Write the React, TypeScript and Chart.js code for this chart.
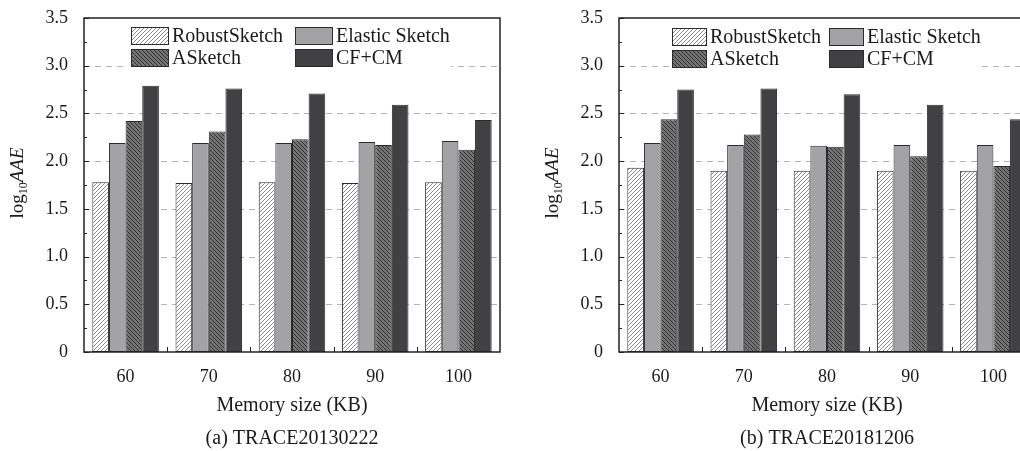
import React, { useEffect, useRef } from 'react';
import { Chart, registerables } from 'chart.js';

Chart.register(...registerables);

const FONT = "'Liberation Serif', 'Times New Roman', Times, serif";

const categories = ['60', '70', '80', '90', '100'];
const seriesNames = ['RobustSketch', 'Elastic Sketch', 'ASketch', 'CF+CM'];
const yTickValues = [0, 0.5, 1.0, 1.5, 2.0, 2.5, 3.0, 3.5];

// (a) TRACE20130222
const traceA_robust = [1.78, 1.77, 1.78, 1.77, 1.78];
const traceA_elastic = [2.19, 2.19, 2.19, 2.2, 2.21];
const traceA_asketch = [2.42, 2.31, 2.23, 2.17, 2.12];
const traceA_cfcm = [2.79, 2.76, 2.71, 2.59, 2.43];

// (b) TRACE20181206
const traceB_robust = [1.93, 1.9, 1.9, 1.9, 1.9];
const traceB_elastic = [2.19, 2.17, 2.16, 2.17, 2.17];
const traceB_asketch = [2.44, 2.28, 2.15, 2.05, 1.95];
const traceB_cfcm = [2.75, 2.76, 2.7, 2.59, 2.44];

function makeHatch(bg: string, fg: string, dir: 'fwd' | 'back', size = 4, lw = 1) {
  const c = document.createElement('canvas');
  c.width = size;
  c.height = size;
  const ctx = c.getContext('2d')!;
  ctx.fillStyle = bg;
  ctx.fillRect(0, 0, size, size);
  ctx.strokeStyle = fg;
  ctx.lineWidth = lw;
  ctx.beginPath();
  if (dir === 'fwd') {
    ctx.moveTo(0, size); ctx.lineTo(size, 0);
    ctx.moveTo(-1, 1); ctx.lineTo(1, -1);
    ctx.moveTo(size - 1, size + 1); ctx.lineTo(size + 1, size - 1);
  } else {
    ctx.moveTo(0, 0); ctx.lineTo(size, size);
    ctx.moveTo(-1, size - 1); ctx.lineTo(1, size + 1);
    ctx.moveTo(size - 1, -1); ctx.lineTo(size + 1, 1);
  }
  ctx.stroke();
  return ctx.createPattern(c, 'repeat')!;
}

type PanelProps = {
  left: number;
  width: number;
  yAxisWidth: number;
  padRight: number;
  values: number[][];
  caption: string;
  legendCols: number[];
  legendRows: number[];
  boxW: number;
};

function Panel(p: PanelProps) {
  const ref = useRef<HTMLCanvasElement>(null);
  useEffect(() => {
    const canvas = ref.current!;
    const fills = [
      makeHatch('#ffffff', '#8a8a8a', 'fwd'),
      '#a3a3a5',
      makeHatch('#747474', '#303030', 'back'),
      '#414143',
    ];
    const border = '#2b2b2b';

    const decor = {
      id: 'decor',
      beforeDatasetsDraw(chart: any) {
        const { ctx, chartArea } = chart;
        const ys = chart.scales.y;
        ctx.save();
        ctx.strokeStyle = '#b4b4b4';
        ctx.lineWidth = 1;
        ctx.setLineDash([6, 5]);
        yTickValues.forEach((v) => {
          if (v <= 0 || v >= 3.5) return;
          const y = Math.round(ys.getPixelForValue(v)) + 0.5;
          ctx.beginPath();
          ctx.moveTo(chartArea.left, y);
          ctx.lineTo(chartArea.right, y);
          ctx.stroke();
        });
        ctx.restore();
      },
      afterDatasetsDraw(chart: any) {
        const { ctx, chartArea } = chart;
        const ys = chart.scales.y;
        const xs = chart.scales.x;
        const L = chartArea.left, R = chartArea.right, T = chartArea.top, B = chartArea.bottom;
        ctx.save();
        // legend background + entries
        const lx0 = L + p.legendCols[0] - 3;
        ctx.fillStyle = '#ffffff';
        ctx.fillRect(lx0, p.legendRows[0] - 3, L + p.legendCols[1] + p.boxW + 118 - lx0, p.legendRows[1] + 18 + 5 - (p.legendRows[0] - 3));
        ctx.font = `20px ${FONT}`;
        ctx.textBaseline = 'middle';
        ctx.textAlign = 'left';
        seriesNames.forEach((name, i) => {
          const col = i % 2;
          const row = Math.floor(i / 2);
          const bx = L + p.legendCols[col];
          const by = p.legendRows[row];
          ctx.fillStyle = fills[i];
          ctx.fillRect(bx, by, p.boxW, 18);
          ctx.strokeStyle = border;
          ctx.lineWidth = 1;
          ctx.strokeRect(bx + 0.5, by + 0.5, p.boxW - 1, 17);
          ctx.fillStyle = '#1a1a1a';
          ctx.fillText(name, bx + p.boxW + 3, by + 10);
        });
        // frame
        ctx.strokeStyle = '#222';
        ctx.lineWidth = 1.5;
        ctx.strokeRect(L, T, R - L, B - T);
        // inward y ticks
        ctx.lineWidth = 1;
        for (let i = 0; i <= 14; i++) {
          const v = i * 0.25;
          const y = Math.round(ys.getPixelForValue(v)) + 0.5;
          const len = i % 2 === 0 ? 5 : 3;
          ctx.beginPath();
          ctx.moveTo(L, y);
          ctx.lineTo(L + len, y);
          ctx.stroke();
        }
        // inward x ticks between categories
        for (let i = 0; i < categories.length - 1; i++) {
          const x = Math.round((xs.getPixelForValue(i) + xs.getPixelForValue(i + 1)) / 2) + 0.5;
          ctx.beginPath();
          ctx.moveTo(x, B);
          ctx.lineTo(x, B - 5);
          ctx.stroke();
        }
        // x title & caption
        const cx = (L + R) / 2;
        ctx.fillStyle = '#1a1a1a';
        ctx.textAlign = 'center';
        ctx.textBaseline = 'middle';
        ctx.font = `20px ${FONT}`;
        ctx.fillText('Memory size (KB)', cx, 406);
        ctx.fillText(p.caption, cx, 439);
        // y title: log10 AAE
        ctx.save();
        const baseX = L - 61;
        ctx.translate(baseX, 183);
        ctx.rotate(-Math.PI / 2);
        const f1 = `19px ${FONT}`;
        const f2 = `12px ${FONT}`;
        const f3 = `italic 19px ${FONT}`;
        ctx.font = f1; const w1 = ctx.measureText('log').width;
        ctx.font = f2; const w2 = ctx.measureText('10').width;
        ctx.font = f3; const w3 = ctx.measureText('AAE').width;
        const total = w1 + w2 + w3;
        let x = -total / 2;
        ctx.textAlign = 'left';
        ctx.textBaseline = 'alphabetic';
        ctx.font = f1; ctx.fillText('log', x, 0); x += w1;
        ctx.font = f2; ctx.fillText('10', x, 4); x += w2;
        ctx.font = f3; ctx.fillText('AAE', x, 0);
        ctx.restore();
        ctx.restore();
      },
    };

    const chart = new Chart(canvas, {
      type: 'bar',
      data: {
        labels: categories,
        datasets: seriesNames.map((name, i) => ({
          label: name,
          data: p.values[i],
          backgroundColor: fills[i] as any,
          borderColor: border,
          borderWidth: 1,
          borderSkipped: false,
          categoryPercentage: 0.8,
          barPercentage: 1.0,
        })),
      },
      options: {
        responsive: false,
        animation: false,
        events: [],
        layout: { padding: { top: 18, right: p.padRight, left: 0, bottom: 0 } },
        plugins: {
          legend: { display: false },
          tooltip: { enabled: false },
          title: { display: false },
        },
        scales: {
          x: {
            type: 'category',
            offset: true,
            grid: { display: false, drawTicks: false },
            border: { display: false },
            ticks: {
              padding: 14,
              color: '#1a1a1a',
              font: { family: FONT, size: 18 },
              maxRotation: 0,
              autoSkip: false,
            },
            afterFit: (s: any) => { s.height = 99; s.paddingLeft = 0; s.paddingRight = 0; },
          },
          y: {
            type: 'linear',
            min: 0,
            max: 3.5,
            grid: { display: false, drawTicks: false },
            border: { display: false },
            ticks: {
              stepSize: 0.5,
              padding: 16,
              color: '#1a1a1a',
              font: { family: FONT, size: 18 },
              callback: (v: any) => (Number(v) === 0 ? '0' : Number(v).toFixed(1)),
            },
            afterFit: (s: any) => { s.width = p.yAxisWidth; s.paddingTop = 0; s.paddingBottom = 0; },
          },
        },
      },
      plugins: [decor],
    });
    return () => chart.destroy();
  }, []);
  return (
    <canvas
      ref={ref}
      width={p.width}
      height={451}
      style={{ position: 'absolute', left: p.left, top: 0, width: p.width, height: 451 }}
    />
  );
}

export default function App() {
  return (
    <div
      style={{
        position: 'fixed',
        left: 0,
        top: 0,
        width: 1020,
        height: 451,
        overflow: 'hidden',
        background: '#ffffff',
      }}
    >
      <Panel
        left={0}
        width={510}
        yAxisWidth={84}
        padRight={10}
        values={[traceA_robust, traceA_elastic, traceA_asketch, traceA_cfcm]}
        caption="(a) TRACE20130222"
        legendCols={[47, 211]}
        legendRows={[27, 49]}
        boxW={38}
      />
      <Panel
        left={510}
        width={526}
        yAxisWidth={109}
        padRight={1}
        values={[traceB_robust, traceB_elastic, traceB_asketch, traceB_cfcm]}
        caption="(b) TRACE20181206"
        legendCols={[53, 210]}
        legendRows={[28, 50]}
        boxW={35}
      />
    </div>
  );
}
